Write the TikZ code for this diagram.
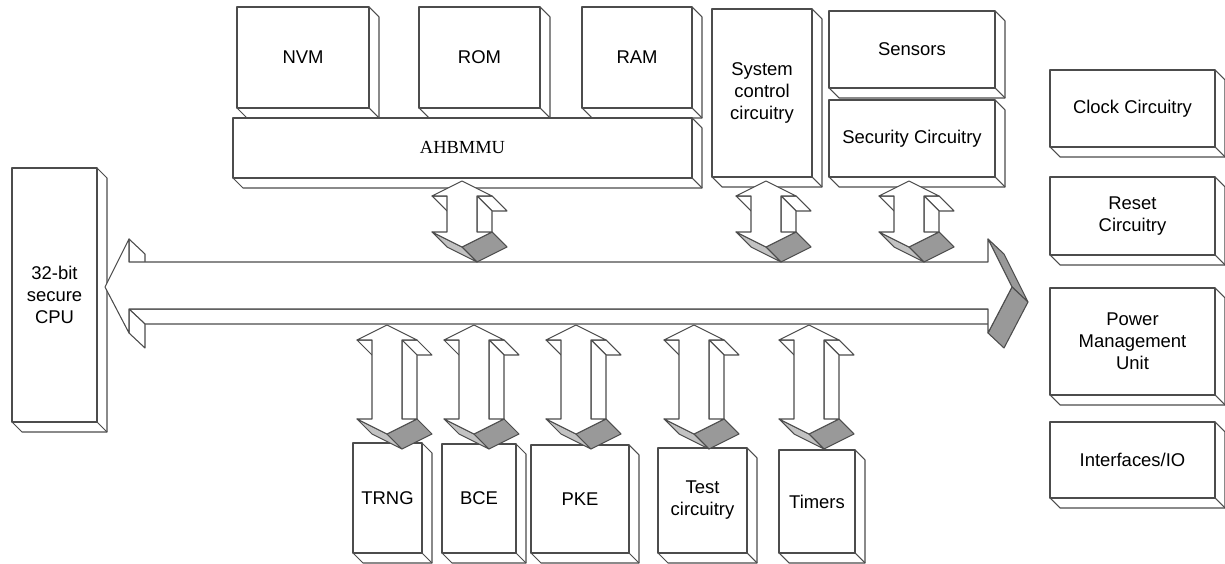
\documentclass[tikz,border=0pt]{standalone}
\usepackage{fontspec}
\setmainfont{Liberation Sans}
\newfontfamily\busfont{Liberation Serif}
\usepackage{xcolor}
\usepackage{tikz}

\definecolor{edgegray}{gray}{0.3}
\definecolor{facedark}{gray}{0.6}
\definecolor{facelight}{gray}{0.76}

\tikzset{
  boxline/.style={draw=edgegray, line width=0.6pt, line join=round},
  blocktext/.style={align=center, font=\fontsize{10.5}{12.5}\selectfont},
}

% 3D block: name, left, top, right, bottom, text
\newcommand{\slab}[6]{%
  \draw[boxline, fill=white] (#4,#3) -- ++(10,10) -- (#4+10,#5+10) -- (#2+10,#5+10) -- (#2,#5) -- cycle;
  \draw[boxline] (#4,#5) -- ++(10,10);
  \draw[boxline, fill=white] (#2,#3) rectangle (#4,#5);
  \node[blocktext] (#1) at ({(#2+#4)/2},{(#3+#5)/2}) {#6};
}

% 3D double arrow: centre x, top tip y, shaft length
\newcommand{\busport}[3]{%
  \pgfmathsetmacro{\ya}{#2+15}
  \pgfmathsetmacro{\yb}{#2+15+#3}
  \pgfmathsetmacro{\yc}{#2+30+#3}
  % hidden sides seen from the lower right
  \draw[boxline, fill=white] (#1-30,\ya) -- (#1-15,\ya) -- (#1,\ya+15) -- (#1-15,\ya+15) -- cycle;
  \draw[boxline, fill=white] (#1+15,\ya) -- (#1+30,\ya) -- (#1+45,\ya+15) -- (#1+30,\ya+15) -- cycle;
  \draw[boxline, fill=white] (#1+15,\ya) -- (#1+15,\yb) -- (#1+30,\yb+15) -- (#1+30,\ya+15) -- cycle;
  \draw[boxline, fill=facelight] (#1-30,\yb) -- (#1,\yc) -- (#1+15,\yc+15) -- (#1-15,\yb+15) -- cycle;
  \draw[boxline, fill=facedark] (#1,\yc) -- (#1+30,\yb) -- (#1+45,\yb+15) -- (#1+15,\yc+15) -- cycle;
  % front face
  \draw[boxline, fill=white] (#1,#2) -- (#1+30,\ya) -- (#1+15,\ya) -- (#1+15,\yb) -- (#1+30,\yb)
    -- (#1,\yc) -- (#1-30,\yb) -- (#1-15,\yb) -- (#1-15,\ya) -- (#1-30,\ya) -- cycle;
}

\begin{document}
\begin{tikzpicture}[x=0.02cm, y=-0.02cm]
    \useasboundingbox (0,0) rectangle (1225,564);

    % Memory blocks on top of the bus unit
    \foreach \name/\xa/\ya/\xb/\yb/\txt in {nvm/237/7/369/108/NVM, rom/419/7/540/108/ROM, ram/582/7/692/108/RAM} {
        \slab{\name}{\xa}{\ya}{\xb}{\yb}{\txt}
    }
    \slab{ahb}{233}{118}{692}{178}{\busfont AHBMMU}

    % Control and security blocks
    \foreach \name/\xa/\ya/\xb/\yb/\txt in {sysctl/712/9/812/177/{System\\control\\circuitry},
        sensors/829/11/995/88/Sensors, security/829/100/995/177/Security Circuitry} {
        \slab{\name}{\xa}{\ya}{\xb}{\yb}{\txt}
    }

    % Blocks on the right
    \foreach \name/\ya/\yb/\txt in {clock/70/147/Clock Circuitry, reset/177/255/{Reset\\Circuitry},
        power/288/395/{Power\\Management\\Unit}, io/422/498/{Interfaces/IO}} {
        \slab{\name}{1050}{\ya}{1215}{\yb}{\txt}
    }

    % CPU
    \slab{cpu}{12}{168}{97}{422}{32-bit\\secure\\CPU}

    % Blocks below the bus
    \foreach \name/\xa/\ya/\xb/\txt in {trng/353/443/422/TRNG, bce/442/444/516/BCE, pke/531/445/629/PKE,
        test/658/448/747/{Test\\circuitry}, timers/779/450/855/Timers} {
        \slab{\name}{\xa}{\ya}{\xb}{553}{\txt}
    }

    % System bus, sides first
    \draw[boxline, fill=white] (129,239) -- (145,254) -- (145,277) -- (129,262) -- cycle;
    \draw[boxline, fill=white] (129,309) -- (988,309) -- (1004,324) -- (145,324) -- cycle;
    \draw[boxline, fill=white] (129,309) -- (129,333) -- (145,348) -- (145,324) -- cycle;
    \draw[boxline, fill=facedark] (988,239) -- (1012,287) -- (1028,302) -- (1004,254) -- cycle;
    \draw[boxline, fill=facedark] (1012,287) -- (988,333) -- (1004,348) -- (1028,302) -- cycle;
    % System bus, front face
    \draw[boxline, fill=white] (105,287) -- (129,239) -- (129,262) -- (988,262) -- (988,239) -- (1012,287)
        -- (988,333) -- (988,309) -- (129,309) -- (129,333) -- cycle;

    % Ports between blocks and bus
    \foreach \cx in {462, 766, 909} {
        \busport{\cx}{181}{36}
    }
    \foreach \cx in {387, 474, 576, 694, 809} {
        \busport{\cx}{325}{79}
    }

\end{tikzpicture}
\end{document}
